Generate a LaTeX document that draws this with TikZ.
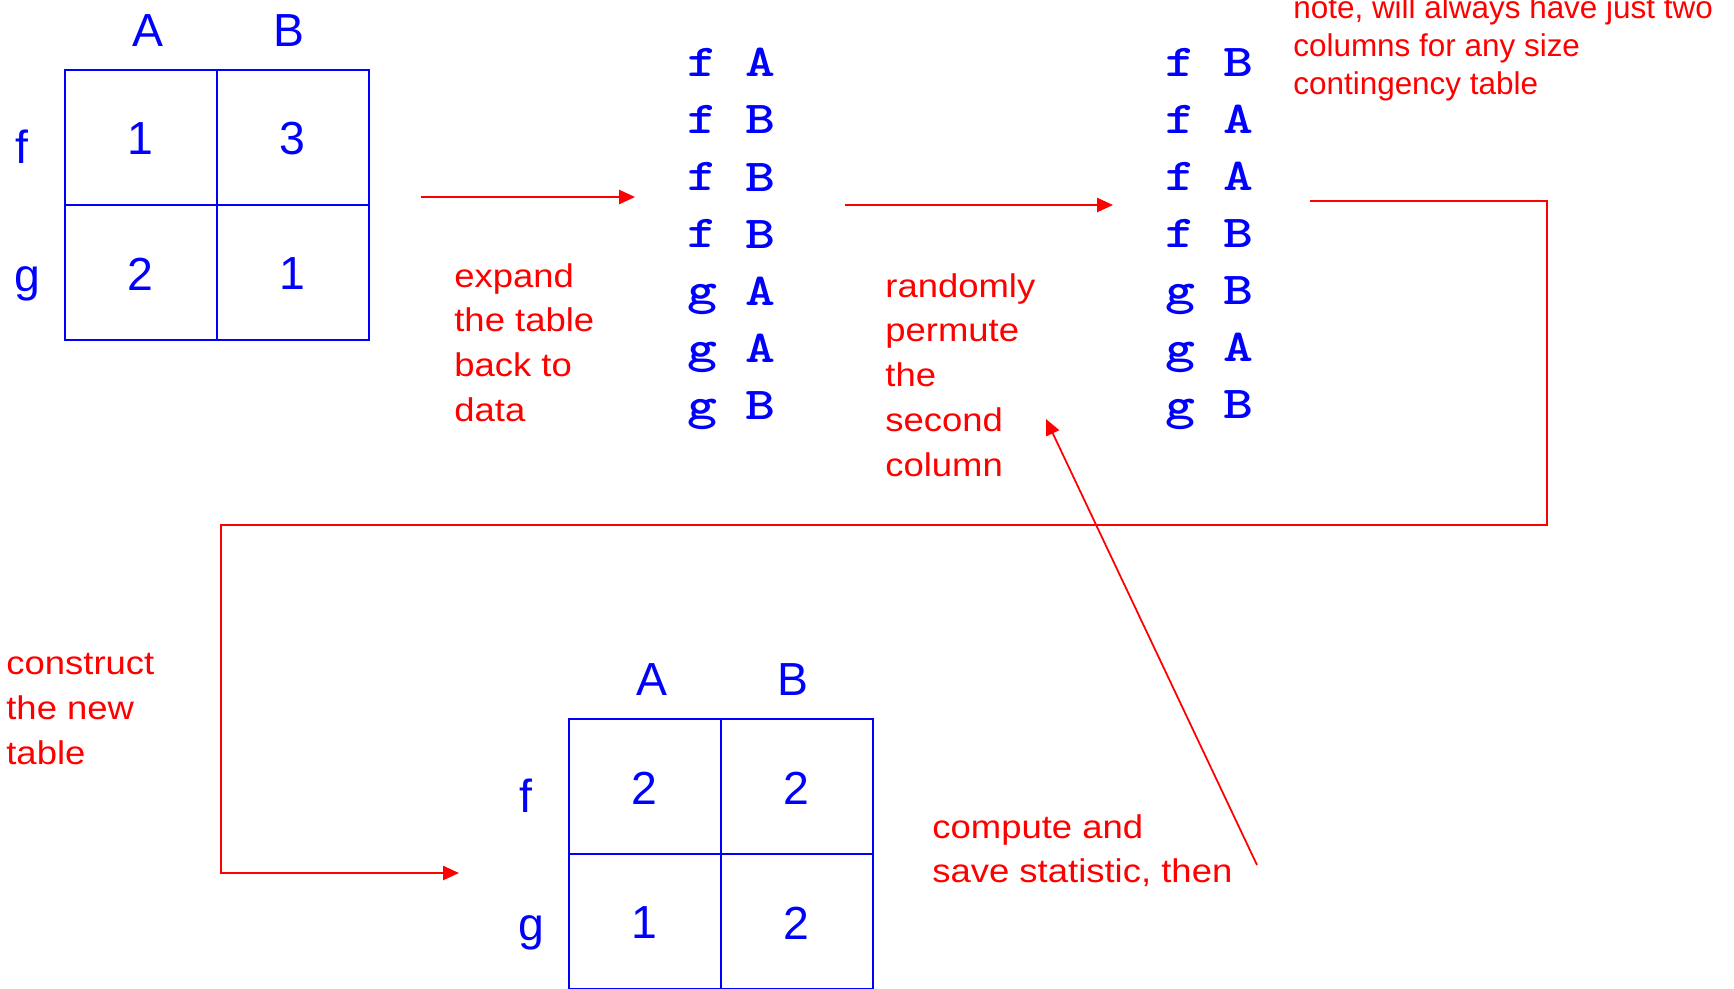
\documentclass[tikz,border=0pt]{standalone}
\usepackage{fontspec}
\setmainfont{Liberation Sans}
\newfontfamily\widefont{Liberation Sans}[FakeStretch=1.11]
\newfontfamily\datafont{lmmonolt10-bold.otf}[FakeStretch=1.25]
\usetikzlibrary{arrows.meta}
\definecolor{tblue}{RGB}{0,0,255}
\definecolor{tred}{RGB}{255,0,0}
\begin{document}
\begin{tikzpicture}[x=0.02cm,y=-0.02cm,every node/.style={inner sep=0pt},
  tabframe/.style={draw=tblue,line width=1.1pt,minimum width=6.08cm,minimum height=5.4cm},
  tabtext/.style={text=tblue,font=\fontsize{26.4}{30}\selectfont},
  datacol/.style={text=tblue,anchor=north,align=center,font=\datafont\fontsize{26}{32.5}\selectfont},
  redtext/.style={text=tred,anchor=north west,align=left,font=\widefont\fontsize{18.7}{25.5}\selectfont},
  redarrow/.style={draw=tred,line width=1pt,-{Triangle[length=9pt,width=8pt]}}]
\useasboundingbox (0,0) rectangle (1734,988);
% observed table
\node[tabframe] (obs) at (217,205) {};
\draw[tblue,line width=1.1pt] (obs.north) -- (obs.south) (obs.west) -- (obs.east);
\node[tabtext,anchor=base] (obsA) at (148,46) {A};
\node[tabtext,anchor=base] (obsB) at (289,46) {B};
\node[tabtext,anchor=base] (obsf) at (22,163) {f};
\node[tabtext,anchor=base] (obsg) at (27,291) {g};
\node[tabtext] (obs11) at (140,139) {1};
\node[tabtext] (obs12) at (292,139) {3};
\node[tabtext] (obs21) at (140,274) {2};
\node[tabtext] (obs22) at (292,274) {1};
% data and permuted data
\node[datacol] (dataf) at (702,48) {f\\f\\f\\f\\g\\g\\g};
\node[datacol] (datab) at (760,48) {A\\B\\B\\B\\A\\A\\B};
\node[datacol] (permf) at (1180,48) {f\\f\\f\\f\\g\\g\\g};
\node[datacol] (permb) at (1238,48) {B\\A\\A\\B\\B\\A\\B};
% new table
\node[tabframe] (new) at (721,854) {};
\draw[tblue,line width=1.1pt] (new.north) -- (new.south) (new.west) -- (new.east);
\node[tabtext,anchor=base] (newA) at (652,695) {A};
\node[tabtext,anchor=base] (newB) at (793,695) {B};
\node[tabtext,anchor=base] (newf) at (526,812) {f};
\node[tabtext,anchor=base] (newg) at (531,940) {g};
\node[tabtext] (new11) at (644,788) {2};
\node[tabtext] (new12) at (796,788) {2};
\node[tabtext] (new21) at (644,923) {1};
\node[tabtext] (new22) at (796,923) {2};
% captions
\node[redtext] (expand) at (454,263) {expand\\the table\\back to\\data};
\node[redtext] (permute) at (885,273) {randomly\\permute\\the\\second\\column};
\node[redtext] (construct) at (6,653) {construct\\the new\\table};
\node[redtext] (compute) at (932,814) {compute and\\save statistic, then};
\node[text=tred,anchor=north west,align=left,font=\fontsize{17.9}{21.8}\selectfont] (twocols) at (1293,-5)
  {note, will always have just two\\columns for any size\\contingency table};
% arrows
\coordinate (exps) at (421,197);
\coordinate (expe) at (635,197);
\coordinate (pers) at (845,205);
\coordinate (pere) at (1113,205);
\coordinate (cons) at (1310,201);
\coordinate (cone) at (459,873);
\coordinate (coms) at (1257,865);
\coordinate (come) at (1046,419);
\draw[redarrow] (exps) -- (expe);
\draw[redarrow] (pers) -- (pere);
\draw[redarrow] (cons) -| (1547,525) -| (221,873) -- (cone);
\draw[redarrow] (coms) -- (come);
\end{tikzpicture}
\end{document}
